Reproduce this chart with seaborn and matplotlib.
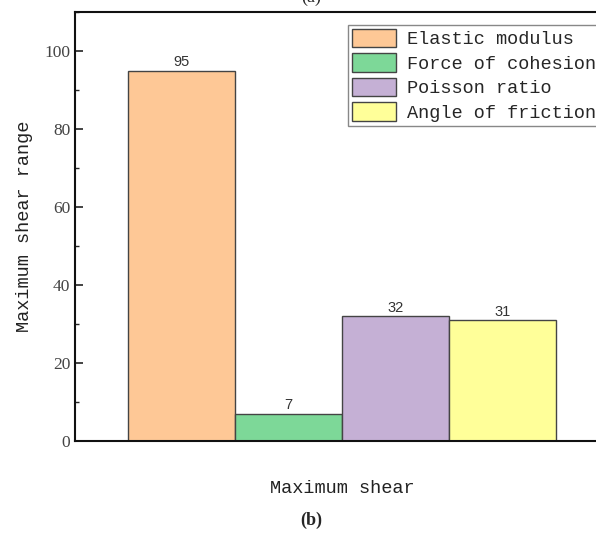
import matplotlib
matplotlib.use("Agg")
import matplotlib.pyplot as plt
import seaborn as sns
import pandas as pd
from matplotlib.ticker import MultipleLocator

categories = ["Maximum shear"]
series = ["Elastic modulus", "Force of cohesion", "Poisson ratio", "Angle of friction"]
values = [95, 7, 32, 31]
colors = ["#FEC896", "#7DD898", "#C5B0D5", "#FFFF99"]

df = pd.DataFrame({"cat": categories * len(series), "param": series, "val": values})

sns.set_style("ticks")
mono = ["Liberation Mono", "DejaVu Sans Mono"]
serif = ["Liberation Serif", "DejaVu Serif"]
sans = ["Liberation Sans", "DejaVu Sans"]

fig = plt.figure(figsize=(5.96, 5.34), dpi=100)
ax = fig.add_axes([75/596, 93/534, 534/596, 429/534])

sns.barplot(data=df, x="cat", y="val", hue="param", hue_order=series,
            palette=colors, ax=ax, edgecolor="#444444", linewidth=1.0,
            saturation=1, width=0.8, errorbar=None)

for c in ax.containers:
    ax.bar_label(c, fmt="%d", padding=1, fontsize=10.5, family=sans, color="#333333")

ax.set_ylim(0, 110)
ax.set_xlim(-0.5, 0.5)
ax.yaxis.set_major_locator(MultipleLocator(20))
ax.yaxis.set_minor_locator(MultipleLocator(10))
ax.tick_params(axis="y", which="major", direction="in", length=6, width=1.2, labelsize=12.5, colors="#222222")
ax.tick_params(axis="y", which="minor", direction="in", length=3, width=1.0)
for t in ax.get_yticklabels():
    t.set_family(serif)
    t.set_color("#444444")
ax.set_xticks([])
ax.set_xlabel("Maximum shear", fontsize=13.4, family=mono, labelpad=28, color="#222222")
ax.set_ylabel("Maximum shear range", fontsize=13.4, family=mono, labelpad=8, color="#222222")
for s in ["left", "bottom", "top", "right"]:
    ax.spines[s].set_visible(True)
    ax.spines[s].set_linewidth(1.5)
    ax.spines[s].set_color("#111111")

leg = ax.legend(loc="upper right", bbox_to_anchor=((600-75)/534, (441-25)/429),
                prop={"family": mono, "size": 13.4},
                frameon=True, fancybox=False, edgecolor="#888888", framealpha=1,
                handlelength=2.37, handleheight=1.15, labelspacing=0.27, handletextpad=0.6,
                borderpad=0.2, borderaxespad=0)
leg.get_frame().set_linewidth(1.0)

fig.text(311/596, 1 - 520/534, "(b)", ha="center", va="center", fontsize=13,
         family=serif, fontweight="bold")
fig.text(311/596, 1.005, "(a)", ha="center", va="center", fontsize=13, family=serif)

fig.savefig("out.png", dpi=100)
